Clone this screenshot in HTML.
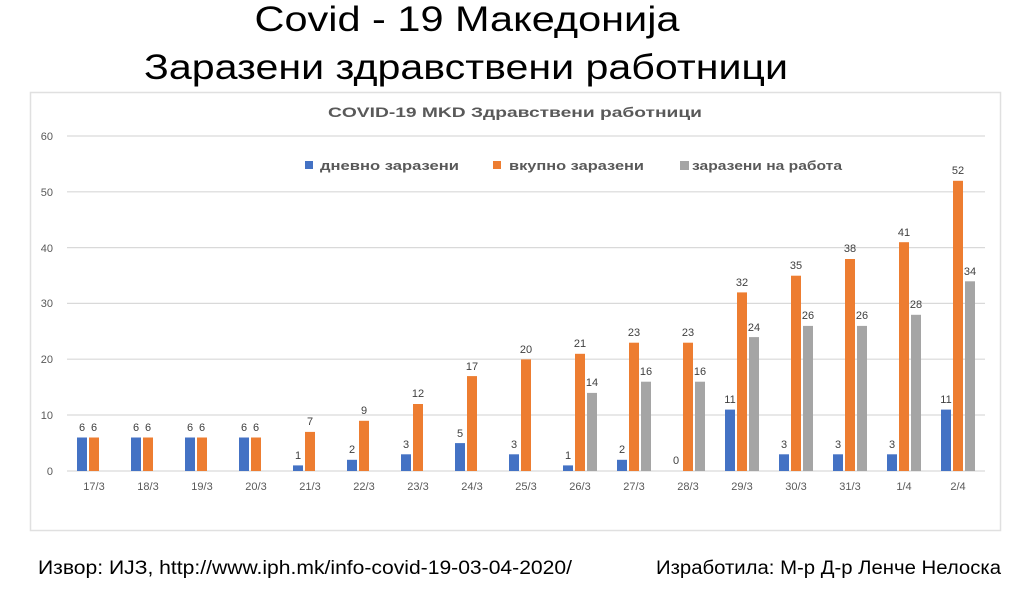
<!DOCTYPE html>
<html><head><meta charset="utf-8"><style>
html,body{margin:0;padding:0;background:#fff;width:1024px;height:602px;overflow:hidden}
svg{display:block}
.t{font-family:"Liberation Sans",sans-serif}
</style></head><body>
<svg width="1024" height="602" viewBox="0 0 1024 602" xmlns="http://www.w3.org/2000/svg" class="t">
<text x="467" y="31" font-size="35" text-anchor="middle" textLength="425" lengthAdjust="spacingAndGlyphs" fill="#000">Covid - 19 Македонија</text>
<text x="466" y="79" font-size="35" text-anchor="middle" textLength="644" lengthAdjust="spacingAndGlyphs" fill="#000">Заразени здравствени работници</text>
<rect x="30.5" y="92.5" width="970" height="438" fill="#fff" stroke="#e0e0e0" stroke-width="1.5"/>
<text x="515" y="117" font-size="14" font-weight="bold" fill="#595959" text-anchor="middle" textLength="374" lengthAdjust="spacingAndGlyphs">COVID-19 MKD Здравствени работници</text>
<g stroke="#d9d9d9" stroke-width="1.2">
<line x1="67" y1="136" x2="985" y2="136"/><line x1="67" y1="191.8" x2="985" y2="191.8"/><line x1="67" y1="247.6" x2="985" y2="247.6"/><line x1="67" y1="303.4" x2="985" y2="303.4"/><line x1="67" y1="359.2" x2="985" y2="359.2"/><line x1="67" y1="415" x2="985" y2="415"/><line x1="67" y1="471" x2="985" y2="471"/>
</g>
<g font-size="11" fill="#595959" text-anchor="end">
<text x="53" y="140">60</text><text x="53" y="196">50</text><text x="53" y="252">40</text><text x="53" y="307">30</text><text x="53" y="363">20</text><text x="53" y="419">10</text><text x="53" y="475">0</text>
</g>
<g font-size="13" font-weight="bold" fill="#595959">
<rect x="305" y="161" width="8" height="8" fill="#4472c4"/><text x="320" y="170" textLength="139" lengthAdjust="spacingAndGlyphs">дневно заразени</text>
<rect x="493" y="161" width="8" height="8" fill="#ed7d31"/><text x="509" y="170" textLength="135" lengthAdjust="spacingAndGlyphs">вкупно заразени</text>
<rect x="680" y="161" width="9" height="9" fill="#a5a5a5"/><text x="692" y="170" textLength="150" lengthAdjust="spacingAndGlyphs">заразени на работа</text>
</g>
<g fill="#4472c4">
<rect x="77" y="437.5" width="10" height="33.5"/><rect x="131" y="437.5" width="10" height="33.5"/><rect x="185" y="437.5" width="10" height="33.5"/><rect x="239" y="437.5" width="10" height="33.5"/>
<rect x="293" y="465.4" width="10" height="5.6"/><rect x="347" y="459.8" width="10" height="11.2"/><rect x="401" y="454.3" width="10" height="16.7"/><rect x="455" y="443.1" width="10" height="27.9"/>
<rect x="509" y="454.3" width="10" height="16.7"/><rect x="563" y="465.4" width="10" height="5.6"/><rect x="617" y="459.8" width="10" height="11.2"/>
<rect x="725" y="409.6" width="10" height="61.4"/><rect x="779" y="454.3" width="10" height="16.7"/><rect x="833" y="454.3" width="10" height="16.7"/><rect x="887" y="454.3" width="10" height="16.7"/><rect x="941" y="409.6" width="10" height="61.4"/>
</g>
<g fill="#ed7d31">
<rect x="89" y="437.5" width="10" height="33.5"/><rect x="143" y="437.5" width="10" height="33.5"/><rect x="197" y="437.5" width="10" height="33.5"/><rect x="251" y="437.5" width="10" height="33.5"/>
<rect x="305" y="431.9" width="10" height="39.1"/><rect x="359" y="420.8" width="10" height="50.2"/><rect x="413" y="404" width="10" height="67"/><rect x="467" y="376.1" width="10" height="94.9"/>
<rect x="521" y="359.4" width="10" height="111.6"/><rect x="575" y="353.8" width="10" height="117.2"/><rect x="629" y="342.7" width="10" height="128.3"/><rect x="683" y="342.7" width="10" height="128.3"/>
<rect x="737" y="292.4" width="10" height="178.6"/><rect x="791" y="275.7" width="10" height="195.3"/><rect x="845" y="259" width="10" height="212"/><rect x="899" y="242.2" width="10" height="228.8"/><rect x="953" y="180.8" width="10" height="290.2"/>
</g>
<g fill="#a5a5a5">
<rect x="587" y="392.9" width="10" height="78.1"/><rect x="641" y="381.7" width="10" height="89.3"/><rect x="695" y="381.7" width="10" height="89.3"/>
<rect x="749" y="337.1" width="10" height="133.9"/><rect x="803" y="325.9" width="10" height="145.1"/><rect x="857" y="325.9" width="10" height="145.1"/><rect x="911" y="314.8" width="10" height="156.2"/><rect x="965" y="281.3" width="10" height="189.7"/>
</g>
<g font-size="11" fill="#404040" text-anchor="middle">
<text x="82" y="431">6</text><text x="94" y="431">6</text><text x="136" y="431">6</text><text x="148" y="431">6</text><text x="190" y="431">6</text><text x="202" y="431">6</text><text x="244" y="431">6</text><text x="256" y="431">6</text>
<text x="298" y="459">1</text><text x="310" y="425">7</text><text x="352" y="453">2</text><text x="364" y="414">9</text><text x="406" y="448">3</text><text x="418" y="397">12</text><text x="460" y="437">5</text><text x="472" y="370">17</text>
<text x="514" y="448">3</text><text x="526" y="353">20</text><text x="568" y="459">1</text><text x="580" y="347">21</text><text x="592" y="386">14</text>
<text x="622" y="453">2</text><text x="634" y="336">23</text><text x="646" y="375">16</text><text x="676" y="464">0</text><text x="688" y="336">23</text><text x="700" y="375">16</text>
<text x="730" y="403">11</text><text x="742" y="286">32</text><text x="754" y="331">24</text>
<text x="784" y="448">3</text><text x="796" y="269">35</text><text x="808" y="319">26</text>
<text x="838" y="448">3</text><text x="850" y="252">38</text><text x="862" y="319">26</text>
<text x="892" y="448">3</text><text x="904" y="236">41</text><text x="916" y="308">28</text>
<text x="946" y="403">11</text><text x="958" y="174">52</text><text x="970" y="275">34</text>
</g>
<g font-size="11" fill="#595959" text-anchor="middle">
<text x="94" y="490">17/3</text><text x="148" y="490">18/3</text><text x="202" y="490">19/3</text><text x="256" y="490">20/3</text><text x="310" y="490">21/3</text><text x="364" y="490">22/3</text><text x="418" y="490">23/3</text><text x="472" y="490">24/3</text><text x="526" y="490">25/3</text><text x="580" y="490">26/3</text><text x="634" y="490">27/3</text><text x="688" y="490">28/3</text><text x="742" y="490">29/3</text><text x="796" y="490">30/3</text><text x="850" y="490">31/3</text><text x="904" y="490">1/4</text><text x="958" y="490">2/4</text>
</g>
<text x="38" y="574" font-size="19" fill="#000" textLength="534" lengthAdjust="spacingAndGlyphs">Извор: ИЈЗ, http://www.iph.mk/info-covid-19-03-04-2020/</text>
<text x="656" y="574" font-size="19" fill="#000" textLength="345" lengthAdjust="spacingAndGlyphs">Изработила: М-р Д-р Ленче Нелоска</text>
</svg>
</body></html>
